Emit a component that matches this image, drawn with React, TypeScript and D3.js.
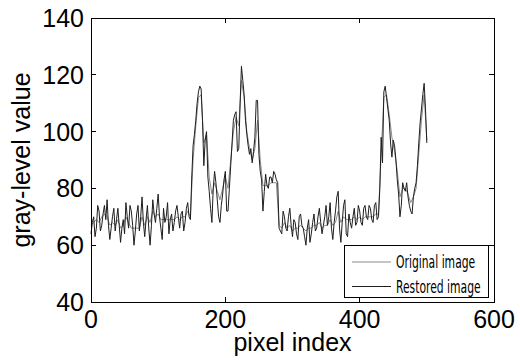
import React from "react";
import * as d3 from "d3";

// Sample positions along the scan line
const originalIndex: number[] = d3.range(0, 501, 4);
const restoredIndex: number[] = d3.range(0, 501, 2);

// Gray levels of the original image along the scan line (every 4th pixel)
const originalValues: number[] = [
  67, 68, 69, 68, 70, 71, 70, 67, 68, 67, 69, 66, 67, 70, 68, 66, 66, 66, 66, 70,
  67, 70, 68, 72, 70, 71, 69, 69, 69, 69, 69, 69, 70, 69, 70, 70, 72, 70,
  90, 102, 112, 113, 96, 99, 84, 78, 82, 79, 76, 80, 84, 80, 90, 100, 105, 102, 118, 112,
  100, 94, 90, 94, 104, 90, 81, 81, 81, 82, 82, 82, 67,
  66, 68, 66, 67, 65, 66, 66, 67, 66, 65, 66, 66, 67, 67, 68, 66, 67, 67, 69, 67,
  68, 72, 68, 70, 69, 69, 69, 70, 69, 70, 69, 70, 70, 70, 70, 71, 71,
  92, 112, 113, 106, 98, 93, 86, 77, 80, 80, 78, 75, 77, 80, 92, 104, 113, 97,
];

// Gray levels of the restored image along the same scan line (every 2nd pixel)
const restoredValues: number[] = [
  64, 68, 70, 63, 66, 74, 72, 65, 67, 71,
  74, 69, 76, 67, 62, 66, 70, 73, 65, 69,
  73, 67, 61, 66, 69, 64, 75, 70, 66, 74,
  72, 67, 60, 65, 71, 74, 65, 70, 77, 68,
  63, 69, 74, 66, 60, 67, 76, 71, 68, 73,
  78, 70, 66, 62, 73, 68, 70, 75, 64, 69,
  71, 65, 68, 72, 74, 70, 66, 71, 72, 65,
  68, 73, 75, 70, 69, 84,
  95, 99, 104, 110, 114, 116, 115, 104, 88, 97,
  100, 84, 79, 73, 68, 80, 86, 82, 76, 70,
  68, 74, 78, 83, 86, 72, 72, 80, 88, 96,
  104, 106, 107, 93, 94, 110, 123, 118, 113, 104,
  99, 95, 92, 94, 89, 93, 98, 111, 111, 92,
  86, 83, 72, 79, 85, 81, 80, 84, 84, 82,
  86, 85, 83, 82, 66,
  65, 64, 72, 70, 66, 65, 70, 73, 67, 63,
  69, 68, 64, 62, 70, 71, 67, 66, 63, 60,
  66, 69, 61, 64, 68, 71, 65, 66, 70, 73,
  68, 64, 67, 70, 74, 67, 70, 75, 66, 62,
  68, 72, 77, 79, 66, 61, 68, 74, 76, 64,
  63, 71, 68, 66, 70, 73, 67, 68, 74, 72,
  68, 67, 73, 74, 70, 69, 74, 73, 69, 68,
  74, 75, 69, 70, 80,
  98, 89, 114, 116, 112, 108, 104, 96, 91, 97,
  95, 90, 83, 78, 70, 74, 82, 80, 79, 82,
  77, 74, 72, 71, 77, 80, 82, 88, 96, 103,
  108, 113, 117, 108, 96,
];

const xTicks: number[] = [0, 200, 400, 600];
const yTicks: number[] = [40, 60, 80, 100, 120, 140];
const legendLabels: string[] = ["Original image", "Restored image"];

const W = 520;
const H = 360;
const M = { left: 91, top: 18, right: 494, bottom: 302 };
const FONT = "'Liberation Sans', Arial, Helvetica, sans-serif";
const NARROW = "'DejaVu Sans Condensed', 'Liberation Sans Narrow', sans-serif";

export default function App() {
  const x = d3.scaleLinear().domain([0, 600]).range([M.left, M.right]);
  const y = d3.scaleLinear().domain([40, 140]).range([M.bottom, M.top]);

  const line = d3
    .line<[number, number]>()
    .x((d) => x(d[0]))
    .y((d) => y(d[1]));

  const origPts = originalIndex.map((p, i) => [p, originalValues[i]] as [number, number]);
  const restPts = restoredIndex.map((p, i) => [p, restoredValues[i]] as [number, number]);

  const tick = 5;
  const seriesStyle = [
    { stroke: "#8a8a8a", width: 1 },
    { stroke: "#1e1e1e", width: 1 },
  ];

  return (
    <svg
      width={W}
      height={H}
      style={{ position: "absolute", left: 0, top: 0, background: "#fff" }}
    >
      <rect x={0} y={0} width={W} height={H} fill="#fff" />

      {/* data lines */}
      <path d={line(origPts) ?? ""} fill="none" stroke={seriesStyle[0].stroke} strokeWidth={seriesStyle[0].width} strokeLinejoin="round" />
      <path d={line(restPts) ?? ""} fill="none" stroke={seriesStyle[1].stroke} strokeWidth={seriesStyle[1].width} strokeLinejoin="round" />

      {/* plot frame */}
      <rect
        x={M.left}
        y={M.top}
        width={M.right - M.left}
        height={M.bottom - M.top}
        fill="none"
        stroke="#000"
        strokeWidth={1}
        shapeRendering="crispEdges"
      />

      {/* inward ticks on all four sides */}
      {xTicks.map((t) => (
        <g key={"xt" + t} shapeRendering="crispEdges">
          <line x1={x(t)} x2={x(t)} y1={M.bottom} y2={M.bottom - tick} stroke="#000" />
          <line x1={x(t)} x2={x(t)} y1={M.top} y2={M.top + tick} stroke="#000" />
        </g>
      ))}
      {yTicks.map((t) => (
        <g key={"yt" + t} shapeRendering="crispEdges">
          <line x1={M.left} x2={M.left + tick} y1={y(t)} y2={y(t)} stroke="#000" />
          <line x1={M.right} x2={M.right - tick} y1={y(t)} y2={y(t)} stroke="#000" />
        </g>
      ))}

      {/* tick labels */}
      {xTicks.map((t) => (
        <text key={"xl" + t} x={x(t)} y={328} textAnchor="middle" fontFamily={FONT} fontSize={25} fill="#000">
          {t}
        </text>
      ))}
      {yTicks.map((t) => (
        <text key={"yl" + t} x={84} y={y(t) + 9} textAnchor="end" fontFamily={FONT} fontSize={25} fill="#000">
          {t}
        </text>
      ))}

      {/* axis titles */}
      <text x={(M.left + M.right) / 2} y={351} textAnchor="middle" fontFamily={FONT} fontSize={25} fill="#000">
        pixel index
      </text>
      <text
        transform={`translate(30, ${(M.top + M.bottom) / 2}) rotate(-90)`}
        textAnchor="middle"
        fontFamily={FONT}
        fontSize={25}
        fill="#000"
      >
        gray-level value
      </text>

      {/* legend */}
      <rect x={344.5} y={245.5} width={144} height={52} fill="#fff" stroke="#000" strokeWidth={1} shapeRendering="crispEdges" />
      {legendLabels.map((lab, i) => {
        const ly = 262 + i * 24.5;
        return (
          <g key={lab}>
            <line x1={352} x2={391} y1={ly} y2={ly} stroke={seriesStyle[i].stroke} strokeWidth={1} />
            <text
              transform={`translate(396, ${ly + 6}) scale(0.8, 1.2)`}
              fontFamily={NARROW}
              fontSize={15}
              fill="#000"
            >
              {lab}
            </text>
          </g>
        );
      })}
    </svg>
  );
}
